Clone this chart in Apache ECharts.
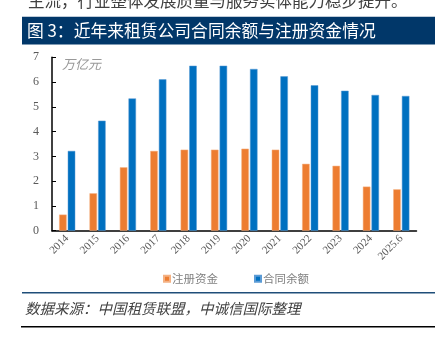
<!DOCTYPE html>
<html>
<head>
<meta charset="utf-8">
<script src="https://cdn.jsdelivr.net/npm/echarts@6/dist/echarts.min.js"></script>
<style>
html,body{margin:0;padding:0;background:#fff;}
#chart{width:445px;height:337px;}
</style>
</head>
<body>
<div id="chart"></div>
<script>
const categories = ['2014','2015','2016','2017','2018','2019','2020','2021','2022','2023','2024','2025.6'];
const registeredCapital = [0.65,1.51,2.56,3.22,3.27,3.27,3.31,3.27,2.70,2.62,1.78,1.67];
const contractBalance = [3.22,4.44,5.34,6.11,6.66,6.66,6.53,6.23,5.87,5.65,5.48,5.44];
const seriesNames = ['注册资金','合同余额'];
const titleText = '图 3：近年来租赁公司合同余额与注册资金情况';
const topText = '主流，行业整体发展质量与服务实体能力稳步提升。';
const unitText = '万亿元';
const sourceText = '数据来源：中国租赁联盟，中诚信国际整理';

const chart = echarts.init(document.getElementById('chart'), null, {renderer:'canvas'});
const cjk = '"Noto Sans CJK SC", sans-serif';
const serif = '"Liberation Serif", "Times New Roman", serif';
chart.setOption({
  animation:false,
  backgroundColor:'#fff',
  grid:{left:52,right:28.5,top:57.3,bottom:106.3,containLabel:false},
  legend:{
    data:seriesNames,
    left:158, top:268,
    icon:'rect', itemWidth:6, itemHeight:6, itemGap:36,
    textStyle:{fontFamily:cjk,fontSize:11.5,color:'#808080',padding:[0,0,0,-3]}
  },
  xAxis:{
    type:'category', data:categories,
    axisLine:{lineStyle:{color:'#000',width:1.5}},
    axisTick:{show:false},
    axisLabel:{rotate:45,fontFamily:serif,fontSize:11,color:'#595959',margin:6,interval:0}
  },
  yAxis:{
    type:'value', min:0, max:7, interval:1,
    splitLine:{show:false},
    axisLine:{show:true,lineStyle:{color:'#000',width:1.5}},
    axisTick:{show:true,inside:true,length:4,lineStyle:{color:'#000'}},
    axisLabel:{fontFamily:serif,fontSize:12,color:'#595959',margin:13}
  },
  series:[
    {name:seriesNames[0],type:'bar',data:registeredCapital,barWidth:7.5,barGap:'15%',
     itemStyle:{color:'#ED7D31',borderColor:'#F4B183',borderWidth:0.5}},
    {name:seriesNames[1],type:'bar',data:contractBalance,barWidth:7.5,barGap:'15%',
     itemStyle:{color:'#0070C0',borderColor:'#5B9BD5',borderWidth:0.5}}
  ],
  graphic:[
    {type:'text',left:28,top:-8,style:{text:topText,font:'16.5px '+cjk,fill:'#404040'}},
    {type:'rect',shape:{x:22,y:16.7,width:413,height:27.8},style:{fill:'#013769'}},
    {type:'text',left:27,top:22,style:{text:titleText,font:'16.8px '+cjk,fill:'#fff'}},
    {type:'text',left:62,top:57.5,style:{text:unitText,font:'italic 13px '+cjk,fill:'#999'}},
    {type:'line',shape:{x1:22,y1:292.7,x2:435,y2:292.7},style:{stroke:'#1F4E79',lineWidth:1.5}},
    {type:'text',left:25,top:301.5,style:{text:sourceText,font:'italic 14.5px '+cjk,fill:'#404040'}},
    {type:'line',shape:{x1:21,y1:326.7,x2:435,y2:326.7},style:{stroke:'#000',lineWidth:1.5}}
  ]
});
</script>
</body>
</html>
